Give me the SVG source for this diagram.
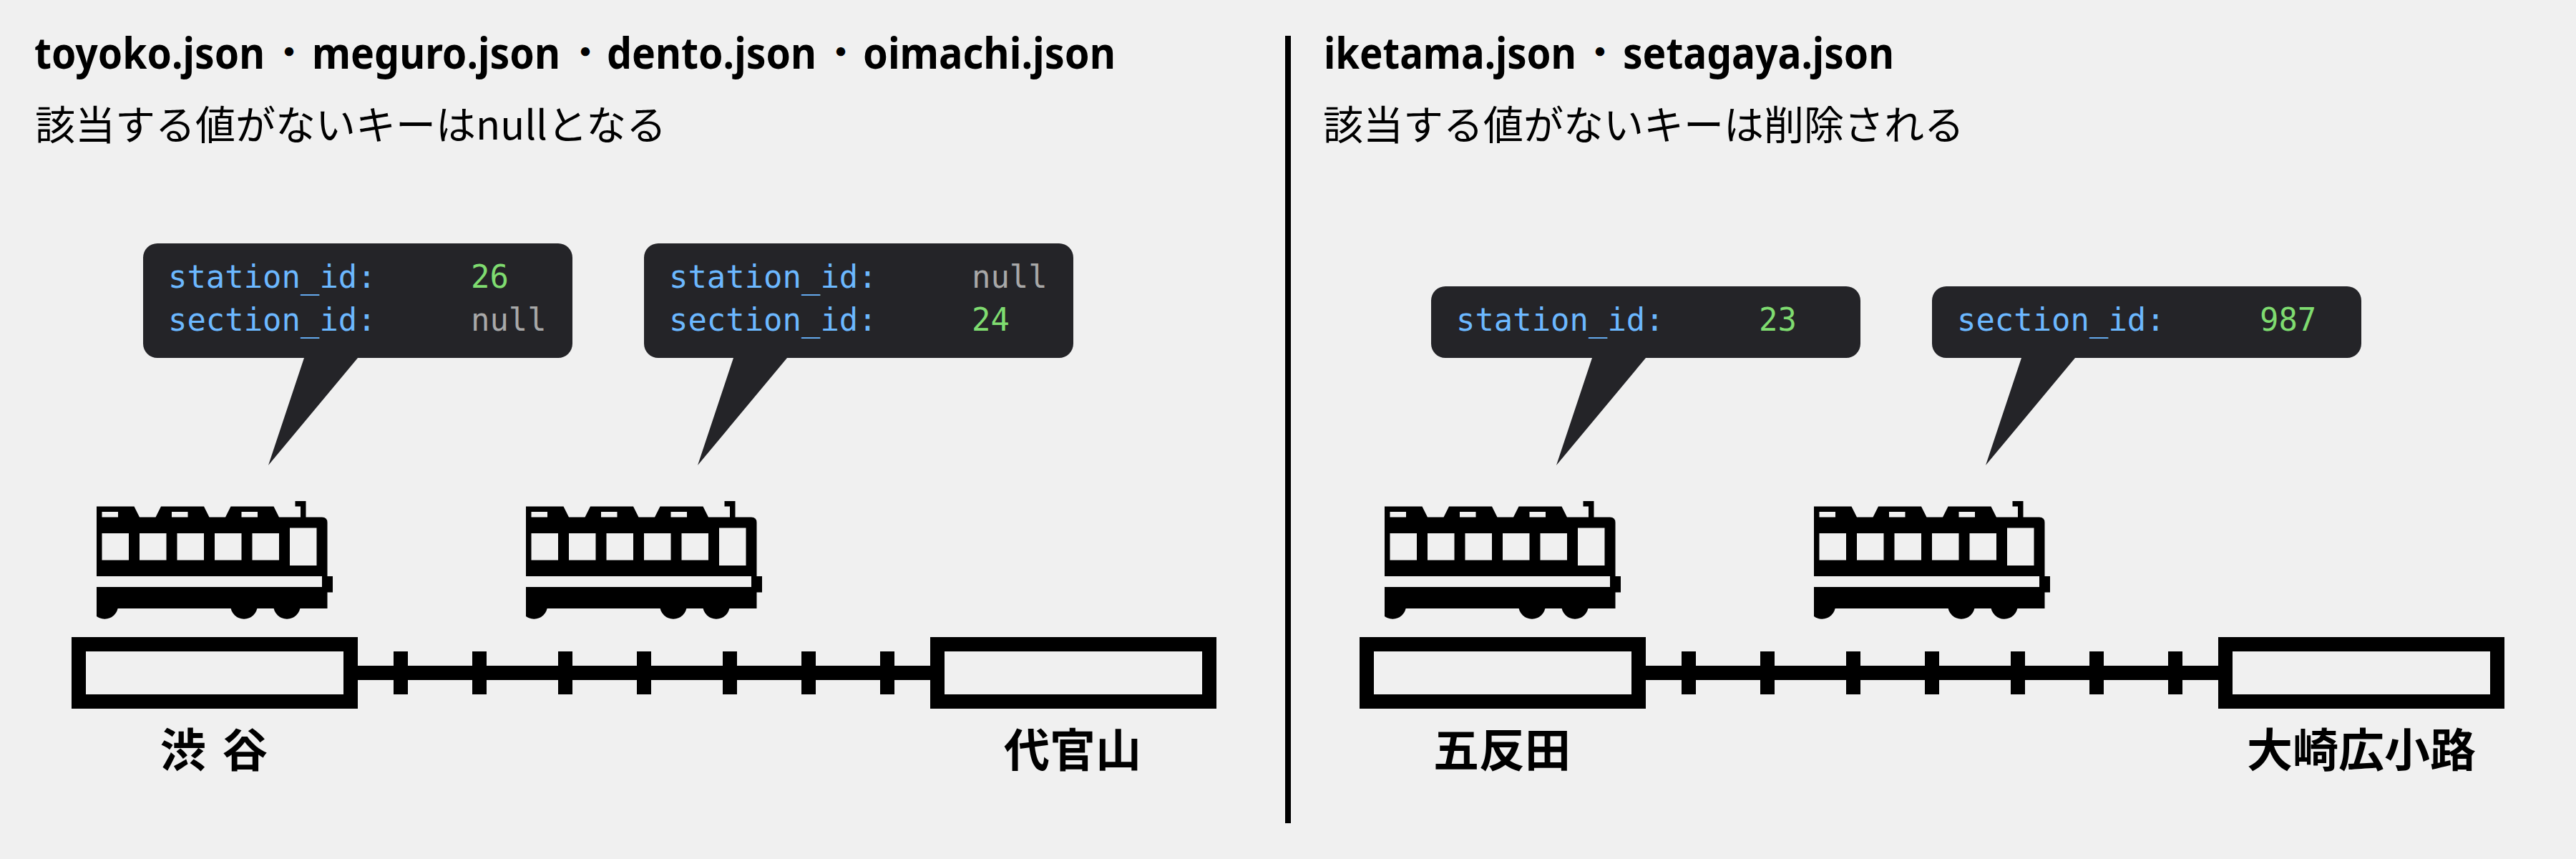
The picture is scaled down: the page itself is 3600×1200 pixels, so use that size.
<svg xmlns="http://www.w3.org/2000/svg" xmlns:xlink="http://www.w3.org/1999/xlink" width="3600" height="1200" viewBox="0 0 3600 1200">
<style>
.h{font:700 61px "Noto Sans","Noto Sans CJK JP",sans-serif;fill:#000}
.d{text-anchor:middle;font-size:48px;font-family:"Noto Sans CJK JP",sans-serif}
.s{font:400 56px "Noto Sans CJK JP","Noto Sans",sans-serif;fill:#000}
.st{font:700 64px "Noto Sans CJK JP",sans-serif;fill:#000;text-anchor:middle}
.m{font:400 43.9px "DejaVu Sans Mono",monospace}
.k{fill:#6cb8ff}.n{fill:#7fdc70}.g{fill:#a8a8a8}
.b{fill:#242428}
</style>
<defs>
<clipPath id="tc"><rect x="135" y="690" width="340" height="180"/></clipPath>
<g id="train">
<path fill-rule="evenodd" d="M135,707.5H187.5L195,722.5H217.5L225,707.5H285L292.5,722.5H315L322.5,707.5H382.5L390,722.5H420V707.5H412.5V700H427.5V722.5H450Q457.5,722.5 457.5,730V850H135Z
M142.5,715V722.5H165V715Z M240,715V722.5H262.5V715Z M337.5,715V722.5H360V715Z
M142.5,745V782.5H180V745Z M195,745V782.5H232.5V745Z M247.5,745V782.5H285V745Z M300,745V782.5H337.5V745Z M352.5,745V782.5H390V745Z
M405,737.5V790H442.5V737.5Z"/>
<rect x="135" y="805" width="315" height="15" fill="#f0f0f0"/>
<rect x="450" y="805" width="15" height="22.5"/>
<g clip-path="url(#tc)"><circle cx="146.25" cy="846" r="18.75"/><circle cx="341" cy="846" r="18.75"/><circle cx="401" cy="846" r="18.75"/></g>
</g>
<path id="station" fill-rule="evenodd" d="M0,0H400V100H0Z M20,20V80H380V20Z"/>
<path id="track" d="M500,930H550V910H570V930H660V910H680V930H780V910H800V930H890V910H910V930H1010V910H1030V930H1120V910H1140V930H1230V910H1250V930H1300V950H1250V970H1230V950H1140V970H1120V950H1030V970H1010V950H910V970H890V950H800V970H780V950H680V970H660V950H570V970H550V950H500Z"/>
</defs>
<rect width="3600" height="1200" fill="#f0f0f0"/>
<g id="divider"><rect x="1796" y="50" width="8" height="1100"/></g>
<g id="heading-left">
<text class="h" y="96"><tspan x="48" textLength="322" lengthAdjust="spacingAndGlyphs">toyoko.json</tspan><tspan class="d" x="404" y="90">・</tspan><tspan x="436" y="96" textLength="347" lengthAdjust="spacingAndGlyphs">meguro.json</tspan><tspan class="d" x="818" y="90">・</tspan><tspan x="848" y="96" textLength="293" lengthAdjust="spacingAndGlyphs">dento.json</tspan><tspan class="d" x="1175" y="90">・</tspan><tspan x="1206" y="96" textLength="353" lengthAdjust="spacingAndGlyphs">oimachi.json</tspan></text>
<text class="s" x="49" y="195">該当する値がないキーはnullとなる</text>
</g>
<g id="heading-right">
<text class="h" y="96"><tspan x="1850" textLength="353" lengthAdjust="spacingAndGlyphs">iketama.json</tspan><tspan class="d" x="2236" y="90">・</tspan><tspan x="2268" y="96" textLength="379" lengthAdjust="spacingAndGlyphs">setagaya.json</tspan></text>
<text class="s" x="1849" y="195">該当する値がないキーは削除される</text>
</g>
<g id="connectors">
<use href="#track"/>
<use href="#track" x="1800"/>
</g>
<g id="station-shibuya"><use href="#station" x="100" y="890"/><text class="st" x="299" y="1071" word-spacing="8">渋 谷</text></g>
<g id="station-daikanyama"><use href="#station" x="1300" y="890"/><text class="st" x="1499" y="1071">代官山</text></g>
<g id="station-gotanda"><use href="#station" x="1900" y="890"/><text class="st" x="2099" y="1071">五反田</text></g>
<g id="station-osaki"><use href="#station" x="3100" y="890"/><text class="st" x="3300" y="1071">大崎広小路</text></g>
<g id="train-1"><use href="#train"/></g>
<g id="train-2"><use href="#train" x="600"/></g>
<g id="train-3"><use href="#train" x="1800"/></g>
<g id="train-4"><use href="#train" x="2400"/></g>
<g id="bubble-1">
<path class="b" d="M220,340H780A20,20 0 0 1 800,360V480A20,20 0 0 1 780,500H500L375,650L425,500H220A20,20 0 0 1 200,480V360A20,20 0 0 1 220,340Z"/>
<text class="m k" x="235" y="402">station_id:</text><text class="m n" x="658" y="402">26</text>
<text class="m k" x="235" y="462">section_id:</text><text class="m g" x="658" y="462">null</text>
</g>
<g id="bubble-2">
<path class="b" d="M920,340H1480A20,20 0 0 1 1500,360V480A20,20 0 0 1 1480,500H1100L975,650L1025,500H920A20,20 0 0 1 900,480V360A20,20 0 0 1 920,340Z"/>
<text class="m k" x="935" y="402">station_id:</text><text class="m g" x="1358" y="402">null</text>
<text class="m k" x="935" y="462">section_id:</text><text class="m n" x="1358" y="462">24</text>
</g>
<g id="bubble-3">
<path class="b" d="M2020,400H2580A20,20 0 0 1 2600,420V480A20,20 0 0 1 2580,500H2300L2175,650L2225,500H2020A20,20 0 0 1 2000,480V420A20,20 0 0 1 2020,400Z"/>
<text class="m k" x="2035" y="462">station_id:</text><text class="m n" x="2458" y="462">23</text>
</g>
<g id="bubble-4">
<path class="b" d="M2720,400H3280A20,20 0 0 1 3300,420V480A20,20 0 0 1 3280,500H2900L2775,650L2825,500H2720A20,20 0 0 1 2700,480V420A20,20 0 0 1 2720,400Z"/>
<text class="m k" x="2735" y="462">section_id:</text><text class="m n" x="3158" y="462">987</text>
</g>
</svg>
